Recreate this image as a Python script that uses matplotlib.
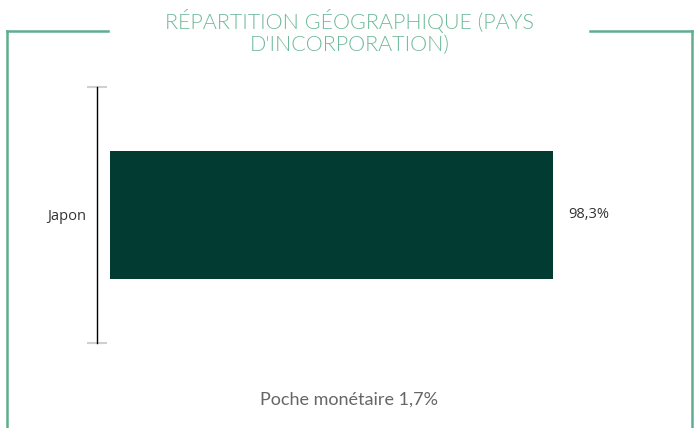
import matplotlib
matplotlib.use("Agg")
import matplotlib.pyplot as plt
from matplotlib.lines import Line2D
from matplotlib import font_manager as fm

categories = ["Japon"]
values = [98.3]
value_labels = ["98,3%"]
title = "RÉPARTITION GÉOGRAPHIQUE (PAYS\nD'INCORPORATION)"
footnote = "Poche monétaire 1,7%"

# find Lato Light file
light_path = None
for f in fm.findSystemFonts():
    n = f.lower()
    if "lato" in n and "light" in n and "italic" not in n and "hairline" not in n and "thin" not in n:
        light_path = f
        break
if light_path:
    title_fp = fm.FontProperties(fname=light_path, size=15.5)
else:
    title_fp = fm.FontProperties(family="Lato", weight="light", size=15.5)

W, H = 699, 428
fig = plt.figure(figsize=(W / 100, H / 100), dpi=100)

def fx(px):
    return px / W

def fy(py):
    return 1 - py / H

frame_color = "#5eae8e"
lw = 1.8
fig.add_artist(Line2D([fx(7), fx(7)], [fy(31), fy(430)], color=frame_color, lw=lw))
fig.add_artist(Line2D([fx(7), fx(108)], [fy(31), fy(31)], color=frame_color, lw=lw))
fig.add_artist(Line2D([fx(590), fx(692)], [fy(31), fy(31)], color=frame_color, lw=lw))
fig.add_artist(Line2D([fx(692), fx(692)], [fy(31), fy(430)], color=frame_color, lw=lw))

fig.text(0.5, fy(32), title, ha="center", va="center", fontproperties=title_fp,
         color="#6db99a", linespacing=1.15)

ax_left, ax_right, ax_top, ax_bot = 97, 680, 87, 343
ax = fig.add_axes([fx(ax_left), fy(ax_bot), fx(ax_right - ax_left), (ax_bot - ax_top) / H])
x0 = 110
scale = (553 - x0) / values[0]
xmin = -(x0 - ax_left) / scale
xmax = (ax_right - x0) / scale
ax.set_xlim(xmin, xmax)
ax.set_ylim(-0.5, 0.5)

ypos = list(range(len(categories)))
ax.barh(ypos, values, height=0.5, left=0, color="#023b31")
for y, v, lab in zip(ypos, values, value_labels):
    ax.annotate(lab, (v, y), xytext=(11, 0), textcoords="offset points",
                ha="left", va="center", fontsize=10.5, family="Open Sans", color="#333333")

for s in ["top", "right", "bottom"]:
    ax.spines[s].set_visible(False)
ax.spines["left"].set_color("black")
ax.spines["left"].set_linewidth(1.0)
ax.spines["left"].set_zorder(5)
ax.set_xticks([])
ax.set_yticks(ypos)
ax.set_yticklabels(categories, fontsize=10.5, family="Open Sans", color="#333333")
ax.tick_params(axis="y", which="major", length=0, pad=8)
ax.set_yticks([-0.5, 0.5], minor=True)
ax.tick_params(axis="y", which="minor", length=15, direction="inout", color="#d0d0d0", width=1.5)
ax.patch.set_alpha(0)

fig.text(0.5, fy(400), footnote, ha="center", va="center", fontsize=13,
         family="Lato", color="#666666")

fig.savefig("out.png", dpi=100)
